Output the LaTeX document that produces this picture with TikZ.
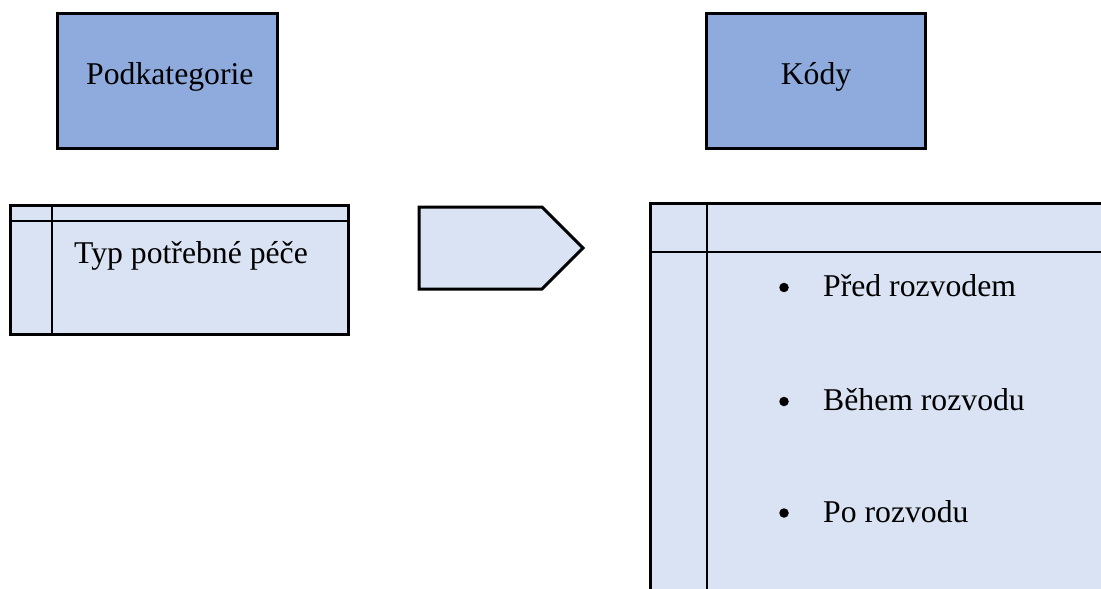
\documentclass[tikz,border=0pt]{standalone}
\usepackage{fontspec}
\setmainfont{Liberation Serif}
\definecolor{darkfill}{HTML}{8FAADC}
\definecolor{lightfill}{HTML}{DAE3F3}
\begin{document}
\begin{tikzpicture}[x=1pt,y=-1pt,
  outl/.style={draw=black,line width=3pt,line join=miter},
  headbox/.style={outl,fill=darkfill},
  lightbox/.style={outl,fill=lightfill},
  inner/.style={draw=black,line width=2.6pt},
  lbl/.style={font=\fontsize{31.7}{36}\selectfont,inner sep=0pt,anchor=base west},
  bul/.style={circle,fill=black,inner sep=0pt,minimum size=9.5pt}]
\useasboundingbox (0,0) rectangle (1101,589);
\clip (0,0) rectangle (1101,589);
% header boxes
\draw[headbox] (57,13) rectangle (277,148);
\node[lbl] (podk) at (86,84) {Podkategorie};
\draw[headbox] (706,13) rectangle (925,148);
\node[font=\fontsize{31.7}{36}\selectfont,inner sep=0pt,anchor=base] (kody) at (816,84) {Kódy};
% left table
\draw[lightbox] (10,205) rectangle (348,334);
\draw[inner] (52,205) -- (52,334);
\draw[inner] (10,221) -- (348,221);
\node[lbl] (typ) at (74,263) {Typ potřebné péče};
% pentagon arrow
\draw[lightbox] (419,207) -- (542,207) -- (583,248) -- (542,289) -- (419,289) -- cycle;
% right table
\draw[lightbox] (650,203) rectangle (1130,620);
\draw[inner] (707,203) -- (707,620);
\draw[inner] (650,252) -- (1130,252);
\node[bul] (b1) at (784,287.5) {};
\node[lbl] (t1) at (823,296) {Před rozvodem};
\node[bul] (b2) at (784,401.5) {};
\node[lbl] (t2) at (823,410) {Během rozvodu};
\node[bul] (b3) at (784,513) {};
\node[lbl] (t3) at (823,522) {Po rozvodu};
\end{tikzpicture}
\end{document}
